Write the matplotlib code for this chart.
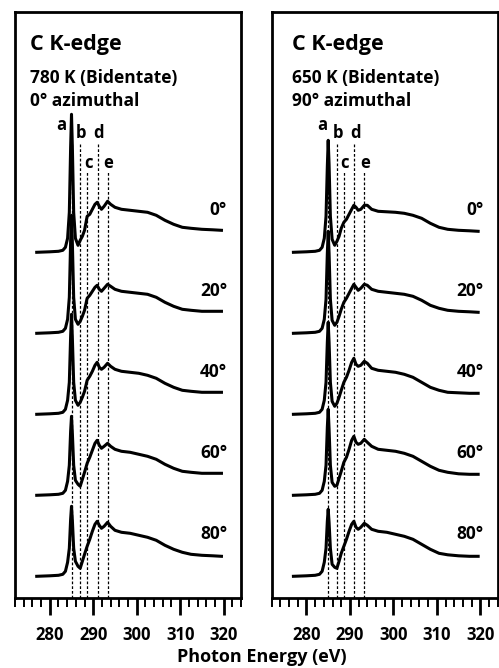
import matplotlib
matplotlib.use("Agg")
import matplotlib.pyplot as plt
from matplotlib.ticker import MultipleLocator

plt.rcParams['font.family'] = ['Open Sans', 'DejaVu Sans']
plt.rcParams['font.weight'] = 'bold'

# ---------------- data ----------------
energy = [277, 280, 282, 283.0, 283.6, 284.1, 284.5, 284.8, 285.0, 285.2, 285.5, 285.9,
          286.5, 287.0, 287.5, 288.0, 288.6, 289.2, 289.8, 290.4, 290.9, 291.4, 291.9,
          292.5, 293.3, 294.0, 295.0, 296.5, 298.5, 300.5, 302.5, 304.5, 306.5, 308.5,
          310.5, 312.5, 315, 317.5, 319.5]

angles = ["0°", "20°", "40°", "60°", "80°"]

# Left panel: 780 K, 0° azimuthal (intensity, arbitrary units, pre-edge = 0)
left_0 = [0, 0.5, 1, 2, 5, 14, 40, 105, 138, 105, 40, 14, 7, 12, 16, 22, 36, 38, 43, 48, 50,
          46, 43, 46, 51, 48, 45, 43, 42, 41, 40, 37, 32, 28, 25, 24, 23, 22.5, 22]
left_20 = [0, 0.5, 1, 2, 5, 14, 36, 92, 118, 90, 36, 14, 9, 12, 17, 23, 35, 38, 42, 46, 48,
           44, 42, 45, 49, 47, 44, 42, 41, 40, 39, 36, 31, 27, 24, 23, 22, 22, 22]
left_40 = [0, 0.5, 1, 2, 5, 14, 32, 78, 100, 76, 32, 14, 9, 12, 17, 23, 34, 38, 43, 49, 52,
           47, 45, 47, 51, 48, 45, 43, 42, 41, 39, 36, 31, 27, 24, 23, 22, 22, 22]
left_60 = [0, 0.5, 1, 2, 5, 14, 30, 64, 79, 62, 30, 15, 11, 9, 16, 23, 32, 38, 45, 52, 55,
           50, 47, 49, 52, 49, 46, 44, 43, 41, 39, 36, 31, 27, 24, 23, 22, 22, 22]
left_80 = [0, 0.5, 1, 2, 5, 14, 28, 57, 70, 56, 28, 15, 10, 8, 15, 22, 30, 37, 45, 52, 55,
           51, 48, 50, 54, 50, 46, 44, 43, 41, 39, 36, 31, 27, 24, 22, 21, 20.5, 20]

# Right panel: 650 K, 90° azimuthal
right_0 = [0, 0.5, 1, 2, 5, 14, 36, 86, 112, 88, 36, 13, 7, 11, 16, 24, 30, 33, 38, 43, 47,
           45, 42, 43, 47, 47, 43, 41, 40.5, 40, 39, 37, 34, 29, 25, 23, 22, 21.5, 21]
right_20 = [0, 0.5, 1, 2, 5, 14, 34, 80, 102, 80, 34, 13, 8, 11, 17, 24, 31, 35, 40, 45, 49,
            46, 43, 45, 49, 48, 44, 42, 41, 40, 39, 37, 33, 28, 25, 23, 22, 21.5, 21]
right_40 = [0, 0.5, 1, 2, 5, 14, 32, 72, 92, 72, 32, 13, 8, 11, 17, 24, 32, 37, 44, 52, 56,
            50, 48, 49, 53, 51, 46, 44, 43, 42, 40, 37, 32, 27, 24, 22, 21.5, 21, 21]
right_60 = [0, 0.5, 1, 2, 5, 14, 30, 68, 86, 66, 30, 13, 9, 10, 17, 24, 33, 38, 46, 55, 59,
            53, 51, 52, 56, 53, 49, 46, 45, 44, 42, 39, 34, 29, 25, 23, 21.5, 21, 21]
right_80 = [0, 0.5, 1, 2, 5, 14, 28, 55, 67, 54, 28, 12, 9, 8, 15, 23, 30, 37, 45, 52, 55,
            49, 47, 49, 53, 51, 47, 45, 44, 42, 40, 37, 32, 27, 23, 21.5, 20.5, 20, 20]

peak_positions = [285.0, 287.0, 288.6, 291.0, 293.3]
peak_letters = ["a", "b", "c", "d", "e"]

panels = [
    dict(title="C K-edge", line1="780 K (Bidentate)", line2="0° azimuthal",
         curves=[left_0, left_20, left_40, left_60, left_80], letter_a_x=282.6, text_x=0.066),
    dict(title="C K-edge", line1="650 K (Bidentate)", line2="90° azimuthal",
         curves=[right_0, right_20, right_40, right_60, right_80], letter_a_x=283.6, text_x=0.088),
]

# ---------------- layout ----------------
W, H = 499, 668
fig = plt.figure(figsize=(W / 100, H / 100), dpi=100)

step = 81.0
ylim = (-22, 564.6)
axes_rects = [
    [15 / W, (H - 598.3) / H, 226 / W, 586.6 / H],
    [271.7 / W, (H - 598.3) / H, 226 / W, 586.6 / H],
]


def ypix(y):
    return ylim[1] - (y - 11.7) * (ylim[1] - ylim[0]) / 586.6


def yaxes(y):
    return (598.3 - y) / 586.6


for rect, p in zip(axes_rects, panels):
    ax = fig.add_axes(rect)
    ax.set_xlim(272, 324)
    ax.set_ylim(*ylim)
    n = len(p["curves"])
    for i, (lab, vals) in enumerate(zip(angles, p["curves"])):
        off = (n - 1 - i) * step
        ax.plot(energy, [v + off for v in vals], color='black', lw=2.2,
                solid_joinstyle='round', zorder=3)
        ax.text(320.8, off + 42, lab, ha='right', va='center', fontsize=12.5,
                fontweight='bold')

    # dashed guide lines
    for xp, letter in zip(peak_positions, peak_letters):
        ytop = ypix(172) if letter in ("c", "e") else ypix(142)
        ax.plot([xp, xp], [ylim[0], ytop], color='black', lw=0.9,
                ls=(0, (2.2, 1.6)), zorder=2)
        if letter == "a":
            ax.text(p["letter_a_x"], ypix(125), letter, ha='center', va='center',
                    fontsize=12, fontweight='bold')
        else:
            yl = 133.5 if letter in ("b", "d") else 163.5
            ax.text(xp + 0.2, ypix(yl), letter, ha='center', va='center',
                    fontsize=12, fontweight='bold')

    ax.text(p["text_x"], yaxes(50), p["title"], transform=ax.transAxes, ha='left',
            va='baseline', fontsize=15.5, fontweight='bold')
    ax.text(p["text_x"], yaxes(82.7), p["line1"], transform=ax.transAxes, ha='left',
            va='baseline', fontsize=12.5, fontweight='bold')
    ax.text(p["text_x"], yaxes(106), p["line2"], transform=ax.transAxes, ha='left',
            va='baseline', fontsize=12.5, fontweight='bold')

    for s in ax.spines.values():
        s.set_linewidth(2.0)
        s.set_color('black')
    ax.set_yticks([])
    ax.xaxis.set_major_locator(MultipleLocator(10))
    ax.xaxis.set_minor_locator(MultipleLocator(2))
    ax.tick_params(axis='x', which='major', direction='out', length=12, width=2.0,
                   labelsize=12, pad=8)
    ax.tick_params(axis='x', which='minor', direction='out', length=6.5, width=1.4)
    for t in ax.get_xticklabels():
        t.set_fontweight('bold')

fig.text(262 / W, 1 - 656.7 / H, "Photon Energy (eV)", ha='center', va='center',
         fontsize=13, fontweight='bold')

fig.savefig("out.png", dpi=100)
